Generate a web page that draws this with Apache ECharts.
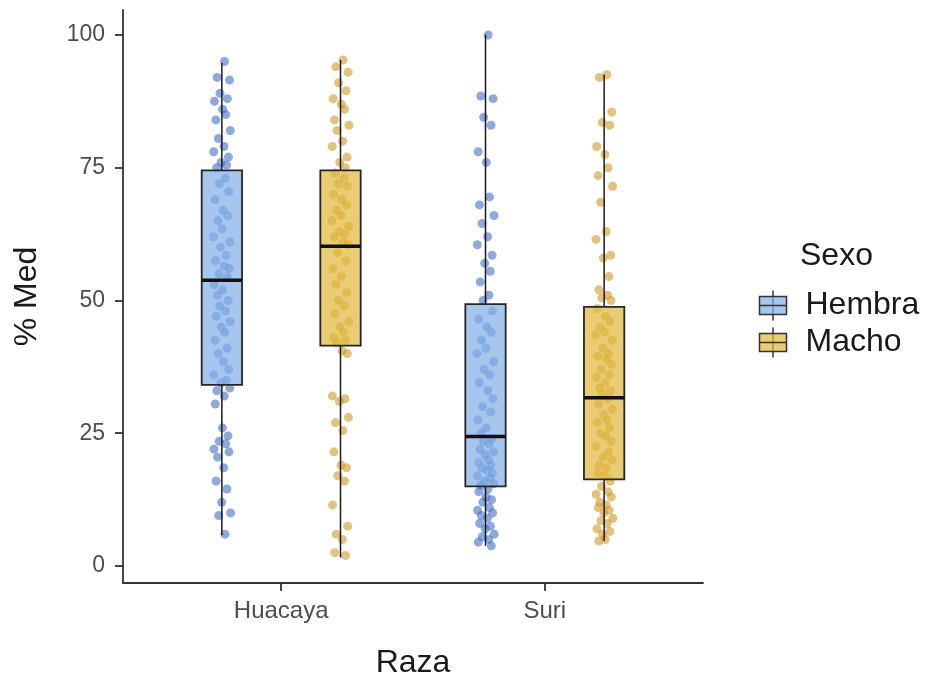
<!DOCTYPE html>
<html>
<head>
<meta charset="utf-8">
<script src="https://cdn.jsdelivr.net/npm/echarts@6/dist/echarts.min.js"></script>
<style>
  html, body { margin: 0; padding: 0; background: #fff; }
  #chart { width: 926px; height: 684px; }
</style>
</head>
<body>
<div id="chart"></div>
<script>
// categories and groups
const categories = ['Huacaya', 'Suri'];
const sexes = ['Hembra', 'Macho'];
const yTicks = [0, 25, 50, 75, 100];

// box stats per category: [min, q1, median, q3, max]
const hembraBox = [[5.8, 34.1, 53.8, 74.5, 94.7], [3.8, 15, 24.4, 49.3, 100]];
const machoBox = [[1.6, 41.5, 60.2, 74.5, 95.3], [4.7, 16.3, 31.7, 48.8, 92.5]];

// jittered points (% Med)
const hembraHuacaya = [95, 92, 91.5, 89, 88, 87.5, 86, 85, 84, 82, 80.5, 79, 78, 77, 76, 75.5, 75,
  73, 72, 70.5, 69, 67, 66, 65, 63.5, 62, 61, 60, 58.5, 57.5, 56.5, 56, 55, 54.5,
  53, 52, 51, 50, 49, 48, 47, 46, 45, 44, 42.5, 41, 40, 38.5, 37, 36, 35, 34.5,
  33.5, 33, 32, 30.5, 26, 24.5, 23.5, 23, 22, 21.5, 20.5, 18.5, 16, 14.5, 12, 10, 9.5, 6];
const machoHuacaya = [95.3, 94, 93, 91, 89.5, 88, 87, 86, 84, 83, 82, 80, 79, 77, 76, 75,
  74, 73, 72, 71.5, 70, 69, 68, 67, 66, 65, 64, 63, 62.5, 62, 61, 60.5,
  59, 57.5, 56, 54.5, 53, 51.5, 50, 49, 47.5, 46, 45, 44, 43, 42.5, 42,
  40.5, 40, 32, 31.5, 31, 28, 27, 25.5, 21.5, 19, 18.5, 17, 16, 11.5, 7.5, 6, 5, 2.5, 2];
const hembraSuri = [100, 88.5, 88, 84.5, 83, 78, 76, 69.5, 68, 66, 64.5, 62, 60.5, 58.5, 57, 55.5, 53.5, 51, 50,
  48, 46.5, 45, 44, 42.5, 41, 40, 38.5, 37, 36, 34.5, 33, 31.5, 30, 29, 27.5, 26, 25,
  24, 23.5, 23, 22, 21.5, 21, 20, 19.5, 19, 18.5, 18, 17.5, 17, 16.5, 16, 15.5, 15.2,
  14.5, 14, 13, 12.5, 12, 11, 10.5, 10, 9.5, 9, 8, 7.5, 7, 6, 5.5, 5, 4.5, 3.8];
const machoSuri = [92.5, 92, 85.5, 83.5, 83, 79, 77.5, 75, 73.5, 71.5, 68.5, 63, 61.5, 58.5, 58, 54.5, 52, 51, 50.5, 50,
  48.5, 47, 46, 45, 44, 43.5, 42.5, 41, 40, 39.5, 39, 38, 37, 36, 35.5, 34.5, 33.5, 33, 32.5,
  31.5, 30.5, 29.5, 28.5, 27.5, 27, 26, 25, 24.5, 23.5, 22.5, 21.5, 20.5, 20, 19, 18.5, 17.5, 17,
  16, 15, 14, 13.5, 13, 12, 11.5, 11, 10.5, 10, 9, 8.5, 8, 7, 6.5, 6, 5, 4.7];

// horizontal jitter offsets (x units)
const jitter = [0.010, -0.018, 0.029, -0.007, 0.021, -0.028, 0.003, 0.015, -0.023, 0.032, -0.013, 0.008, -0.031, 0.025, -0.003,
  0.018, -0.020, 0.013, -0.009, 0.026, -0.026, 0.005, 0.022, -0.015, 0.001, -0.033, 0.031, -0.005, 0.016, -0.024,
  0.009, 0.028, -0.011, 0.020, -0.029, 0.003, -0.017, 0.024, -0.008, 0.014, -0.021, 0.031, -0.002, 0.011, -0.026,
  0.020, -0.014, 0.006, 0.026, -0.031, 0.017, -0.004, 0.030, -0.019, 0.009, -0.025, 0.002, 0.023, -0.010, 0.015,
  -0.030, 0.027, -0.016, 0.007, -0.022, 0.019, -0.001, 0.033, -0.012, 0.012, -0.027, 0.022, -0.006, 0.004, -0.020];

const dodge = 0.225;
const boxWidth = 0.153;
const font = '"Liberation Sans", Arial, sans-serif';

const colors = {
  Hembra: { box: 'rgba(131,176,231,0.72)', point: 'rgba(62,105,195,0.72)' },
  Macho: { box: 'rgba(226,184,62,0.72)', point: 'rgba(205,150,35,0.72)' }
};

function pointData(values, catIndex, offset) {
  return values.map((v, i) => [catIndex + 1 + offset + jitter[i % jitter.length], v]);
}

function boxData(stats, offset) {
  return stats.map((s, i) => [i + 1 + offset].concat(s));
}

function makeRender(fill) {
  return function (params, api) {
    const x = api.value(0);
    const pMin = api.coord([x, api.value(1)]);
    const pQ1 = api.coord([x, api.value(2)]);
    const pMed = api.coord([x, api.value(3)]);
    const pQ3 = api.coord([x, api.value(4)]);
    const pMax = api.coord([x, api.value(5)]);
    const half = api.size([boxWidth, 0])[0] / 2;
    const cx = pMed[0];
    return {
      type: 'group',
      children: [
        { type: 'line', shape: { x1: cx, y1: pMax[1], x2: cx, y2: pQ3[1] }, style: { stroke: '#1a1a1a', lineWidth: 1.5 } },
        { type: 'line', shape: { x1: cx, y1: pQ1[1], x2: cx, y2: pMin[1] }, style: { stroke: '#1a1a1a', lineWidth: 1.5 } },
        { type: 'rect', shape: { x: cx - half, y: pQ3[1], width: half * 2, height: pQ1[1] - pQ3[1] },
          style: { fill: fill, stroke: '#262626', lineWidth: 1.8 } },
        { type: 'line', shape: { x1: cx - half, y1: pMed[1], x2: cx + half, y2: pMed[1] }, style: { stroke: '#111', lineWidth: 3.5 } }
      ]
    };
  };
}

// legend drawn as graphic (boxplot glyph)
function legendItem(y, label, fill) {
  return {
    type: 'group', left: 757, top: y - 15,
    children: [
      { type: 'line', shape: { x1: 13.5, y1: 0, x2: 13.5, y2: 30 }, style: { stroke: '#333', lineWidth: 1.5 } },
      { type: 'rect', shape: { x: 0, y: 6, width: 27, height: 18 }, style: { fill: fill, stroke: '#333', lineWidth: 1.5 } },
      { type: 'line', shape: { x1: 0, y1: 15, x2: 27, y2: 15 }, style: { stroke: '#333', lineWidth: 1.5 } },
      { type: 'text', x: 46, y: 15, style: { text: label, font: '32px ' + font, fill: '#1a1a1a', textVerticalAlign: 'middle' } }
    ]
  };
}

const chart = echarts.init(document.getElementById('chart'));
chart.setOption({
  animation: false,
  grid: { left: 123, right: 223, top: 10, bottom: 99 },
  xAxis: {
    type: 'value', min: 0.4, max: 2.6,
    name: 'Raza', nameLocation: 'middle', nameGap: 64,
    nameTextStyle: { fontSize: 32, color: '#1a1a1a', fontFamily: font },
    splitLine: { show: false },
    axisLine: { show: true, onZero: false, lineStyle: { color: '#333', width: 1.8 } },
    axisTick: { show: true, length: 8, customValues: [1, 2], lineStyle: { color: '#333', width: 1.8 } },
    axisLabel: {
      customValues: [1, 2], margin: 16, fontSize: 24, color: '#4d4d4d', fontFamily: font,
      formatter: v => categories[Math.round(v) - 1] || ''
    }
  },
  yAxis: {
    type: 'value', min: -3.2, max: 104.7,
    name: '% Med', nameLocation: 'middle', nameGap: 80,
    nameTextStyle: { fontSize: 32, color: '#1a1a1a', fontFamily: font },
    splitLine: { show: false },
    axisLine: { show: true, onZero: false, lineStyle: { color: '#333', width: 1.8 } },
    axisTick: { show: true, length: 8, customValues: yTicks, lineStyle: { color: '#333', width: 1.8 } },
    axisLabel: { customValues: yTicks, margin: 18, fontSize: 23, color: '#4d4d4d', fontFamily: font }
  },
  series: [
    {
      name: 'Hembra', type: 'scatter', z: 2, symbolSize: 9,
      itemStyle: { color: colors.Hembra.point },
      data: pointData(hembraHuacaya, 0, -dodge).concat(pointData(hembraSuri, 1, -dodge))
    },
    {
      name: 'Macho', type: 'scatter', z: 2, symbolSize: 9,
      itemStyle: { color: colors.Macho.point },
      data: pointData(machoHuacaya, 0, dodge).concat(pointData(machoSuri, 1, dodge))
    },
    {
      name: 'Hembra box', type: 'custom', z: 3, renderItem: makeRender(colors.Hembra.box),
      encode: { x: 0, y: [1, 2, 3, 4, 5] }, data: boxData(hembraBox, -dodge)
    },
    {
      name: 'Macho box', type: 'custom', z: 3, renderItem: makeRender(colors.Macho.box),
      encode: { x: 0, y: [1, 2, 3, 4, 5] }, data: boxData(machoBox, dodge)
    }
  ],
  graphic: [
    { type: 'text', left: 800, top: 240, style: { text: 'Sexo', font: '32px ' + font, fill: '#1a1a1a' } },
    legendItem(303, sexes[0], colors.Hembra.box),
    legendItem(340, sexes[1], colors.Macho.box)
  ]
});
</script>
</body>
</html>
